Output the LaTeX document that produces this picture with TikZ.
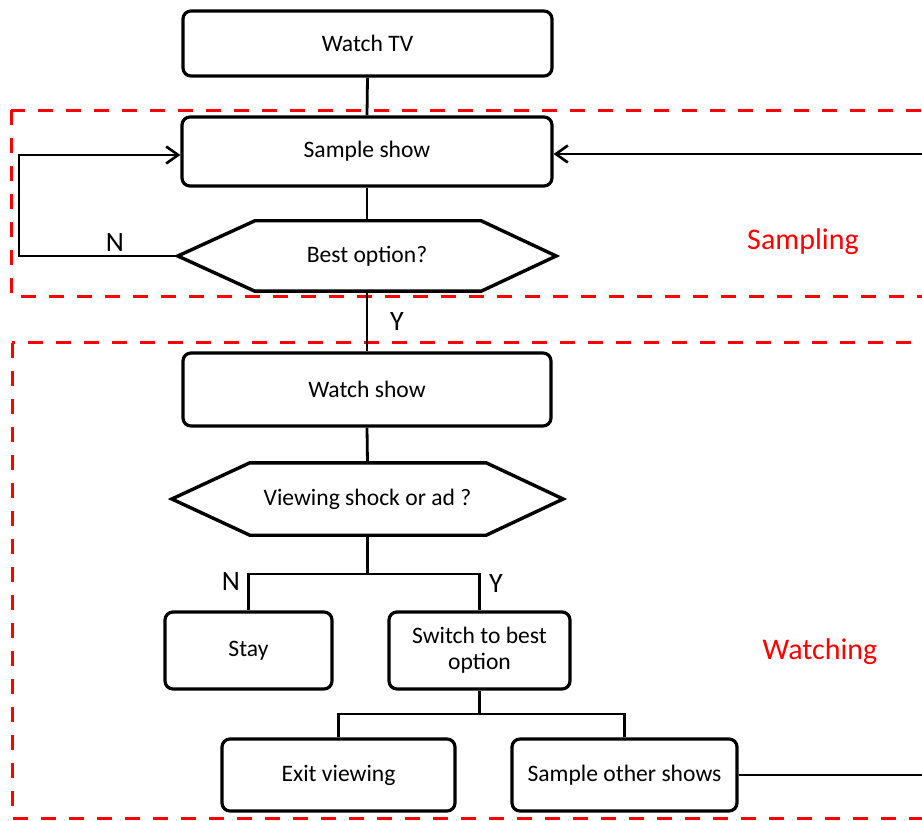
\documentclass[tikz,border=0pt]{standalone}
\usepackage{fontspec}
\setmainfont{Carlito}
\usetikzlibrary{arrows.meta,calc}
\begin{document}
\begin{tikzpicture}[x=1pt,y=-1pt,
  box/.style={draw, line width=3.2pt, rounded corners=8pt, align=center, inner sep=0pt,
    font=\fontsize{23.6}{26}\selectfont},
  hexnode/.style={inner sep=0pt, font=\fontsize{23.6}{26}\selectfont},
  hexline/.style={draw, line width=3.4pt, line join=miter},
  conn/.style={line width=2.8pt},
  arr/.style={line width=2.6pt, -{Straight Barb[length=12pt,width=17pt,line width=2.6pt]}},
  lbl/.style={font=\fontsize{28}{30}\selectfont},
  zone/.style={draw=red, line width=3pt, dash pattern=on 15pt off 13pt},
  zonelbl/.style={text=red, font=\fontsize{30}{32}\selectfont}]
\useasboundingbox (0,0) rectangle (922,821);
\clip (0,0) rectangle (922,821);

% zones
\draw[zone] (11,110.5) rectangle (980,296.5);
\draw[zone] (12,343) rectangle (980,818.5);
\node[zonelbl] (samplinglbl) at (803,242) {Sampling};
\node[zonelbl] (watchinglbl) at (820,652) {Watching};

% nodes
\node[box, minimum width=369pt, minimum height=65pt] (tv) at (367.5,43.5) {Watch TV};
\node[box, minimum width=370pt, minimum height=69pt] (ss) at (367,151.5) {Sample show};
\node[hexnode, minimum width=378pt, minimum height=70pt] (best) at (367,256) {Best option?};
\draw[hexline] (best.west) -- ([xshift=77pt]best.north west) -- ([xshift=-75pt]best.north east)
  -- (best.east) -- ([xshift=-75pt]best.south east) -- ([xshift=77pt]best.south west) -- cycle;
\node[box, minimum width=368pt, minimum height=73pt] (ws) at (367,389.5) {Watch show};
\node[hexnode, minimum width=391pt, minimum height=72pt] (vs) at (367.5,499) {Viewing shock or ad ?};
\draw[hexline] (vs.west) -- ([xshift=78pt]vs.north west) -- ([xshift=-77pt]vs.north east)
  -- (vs.east) -- ([xshift=-77pt]vs.south east) -- ([xshift=78pt]vs.south west) -- cycle;
\node[box, minimum width=167pt, minimum height=77pt] (stay) at (248.5,650.5) {Stay};
\node[box, minimum width=181pt, minimum height=77pt] (sw) at (479.5,650.5) {Switch to best\\option};
\node[box, minimum width=233pt, minimum height=72pt] (exit) at (338.5,775) {Exit viewing};
\node[box, minimum width=225pt, minimum height=72pt] (sos) at (624.5,775) {Sample other shows};

% coordinates
\coordinate (l1) at (19,256);
\coordinate (l2) at (19,155);
\coordinate (b1) at (367.5,574);
\coordinate (b2) at (479.5,714);
\coordinate (r1) at (940,775);
\coordinate (r2) at (940,154);

% connectors
\draw[conn] (tv.south) -- (ss.north);
\draw[conn] (ss.south) -- (best.north);
\draw[conn] (best.south) -- (ws.north);
\draw[conn] (ws.south) -- (vs.north);
\draw[conn] (vs.south) -- (b1);
\draw[conn] (b1) -| (stay.north);
\draw[conn] (b1) -| (sw.north);
\draw[conn] (sw.south) -- (b2);
\draw[conn] (b2) -| (exit.north);
\draw[conn] (b2) -| (sos.north);
\draw[arr] (best.west) -- (l1) -- (l2) -- (l2 -| ss.west);
\draw[arr] (sos.east) -- (r1) -- (r2) -- (r2 -| ss.east);

% labels
\node[lbl] (n1) at (115,243) {N};
\node[lbl] (y1) at (397,322) {Y};
\node[lbl] (n2) at (231,582) {N};
\node[lbl] (y2) at (496,584) {Y};
\end{tikzpicture}
\end{document}
